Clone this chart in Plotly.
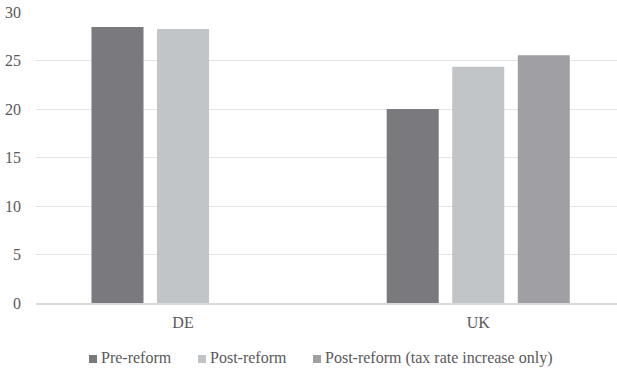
import plotly.graph_objects as go

countries = ["DE", "UK"]
pre_reform = [28.45, 20.0]
post_reform = [28.25, 24.35]
post_tax_only = [None, 25.55]

series = [
    ("Pre-reform", pre_reform, "#7a797e"),
    ("Post-reform", post_reform, "#c2c5c8"),
    ("Post-reform (tax rate increase only)", post_tax_only, "#a09fa4"),
]

W, H = 617, 369
L, R, T, B = 36, 0, 12, 66
TEXT = "#595959"
font = dict(family="Liberation Serif, Times New Roman, serif", size=16, color=TEXT)

fig = go.Figure()
for name, vals, color in series:
    fig.add_trace(go.Bar(x=countries, y=vals, name=name, marker_color=color,
                         marker_line_width=0, showlegend=False))

# legend drawn beneath the plot: a small square swatch followed by its label
def px_x(p):
    return (p - L) / (W - L - R)

def px_y(p):
    return (H - B - p) / (H - T - B)

legend_left = [89, 198, 313]
sw = 8
base = 363
for (name, _, color), x0 in zip(series, legend_left):
    fig.add_shape(type="rect", xref="paper", yref="paper",
                  x0=px_x(x0), x1=px_x(x0 + sw), y0=px_y(base), y1=px_y(base - sw),
                  fillcolor=color, line_width=0)
    fig.add_annotation(xref="paper", yref="paper", x=px_x(x0 + sw + 2), y=px_y(357.5),
                       xanchor="left", yanchor="middle", text=name, showarrow=False,
                       font=font)

fig.update_layout(
    width=W, height=H,
    margin=dict(l=L, r=R, t=T, b=B, autoexpand=False),
    paper_bgcolor="white", plot_bgcolor="white",
    font=font,
    barmode="group", bargap=0.334, bargroupgap=0.206,
    xaxis=dict(range=[-0.498, 1.47], showgrid=False, showline=True,
               linecolor="#d9d9d9", linewidth=1.5, ticks="outside", ticklen=4,
               tickcolor="rgba(0,0,0,0)", tickfont=font),
    yaxis=dict(range=[0, 30], dtick=5, showgrid=True, gridcolor="#e3e3e3",
               gridwidth=1, zeroline=False, showline=False,
               ticklabelstandoff=14, tickfont=font),
)

fig.write_html("out.html")
